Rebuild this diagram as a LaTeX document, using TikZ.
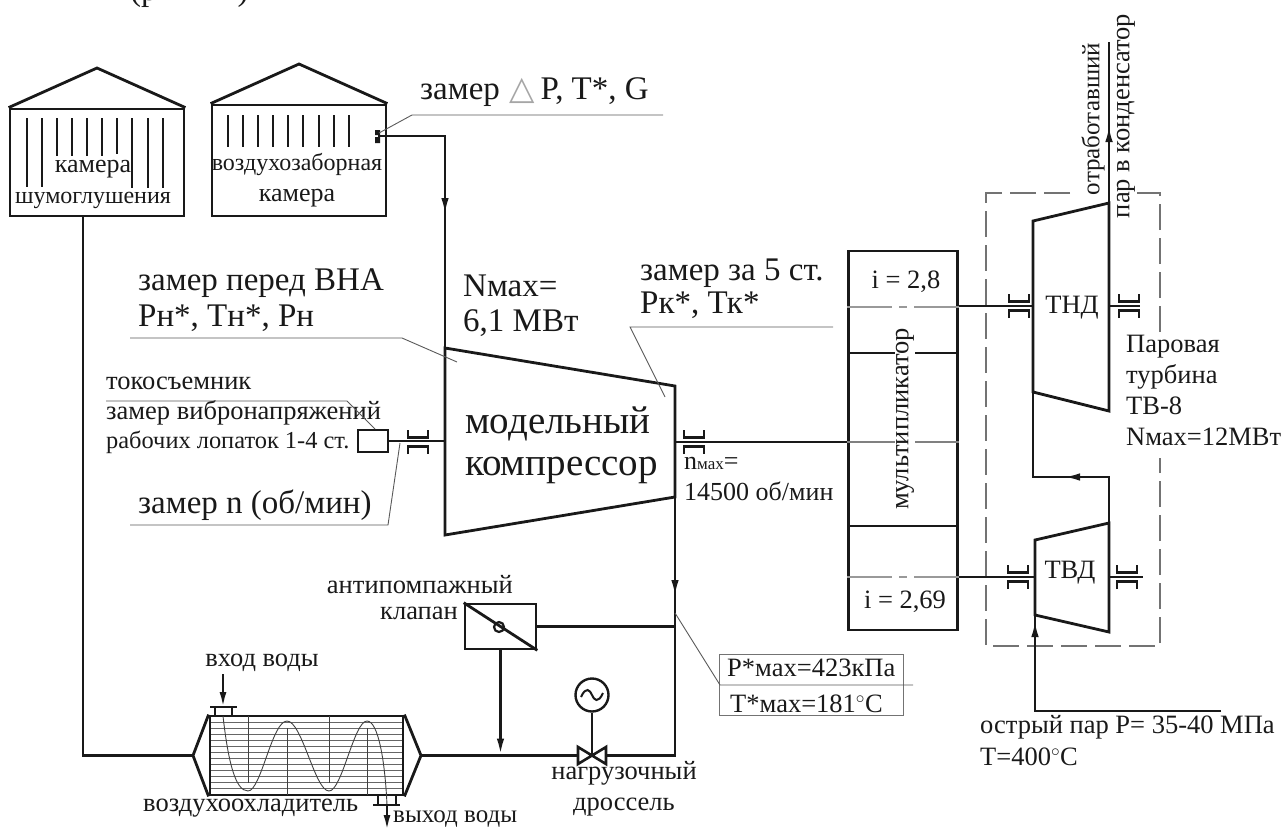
\documentclass[tikz,border=0pt]{standalone}
\usepackage{fontspec}
\setmainfont{Liberation Serif}
\newfontfamily\symbfont{DejaVu Sans}
\usetikzlibrary{arrows.meta,positioning,calc}
\newcommand{\fsz}[2]{\fontsize{#1}{#2}\selectfont}
\newcommand{\mysub}[1]{{\fsz{17}{17}#1}}

\begin{document}
\begin{tikzpicture}[
  x=1pt, y=-1pt,
  pipe/.style={line width=2.8pt, black!90},
  flow/.style={line width=2.8pt, black!90, -{Latex[length=17pt,width=7.5pt]}},
  leader/.style={line width=0.9pt, black!65},
  fine/.style={line width=0.9pt, black!75},
  frame/.style={line width=1.2pt, black!55, dash pattern=on 26pt off 8pt},
  center line/.style={line width=1.2pt, black!40, dash pattern=on 45pt off 7pt on 8pt off 7pt on 45pt},
  house/.style={draw, line width=2.8pt, black!90, minimum width=174pt, inner sep=0pt},
  lbl/.style={inner sep=0pt, font=\fsz{26.5}{31}, align=left, black!90},
  lblsm/.style={inner sep=0pt, font=\fsz{24}{31}, align=center, black!90},
  lblbig/.style={inner sep=0pt, font=\fsz{33}{35}, align=left, black!90},
  bearing/.pic={
    \draw[line width=2.6pt, black!90] (-10,-12) -- (-10,-4.5) -- (10,-4.5) -- (10,-12);
    \draw[line width=2.6pt, black!90] (-10,12) -- (-10,4.5) -- (10,4.5) -- (10,12);
  }
]
\useasboundingbox (0,0) rectangle (1284,830);
\clip (0,0) rectangle (1284,830);

\node[lblbig, anchor=base west] (topline) at (130,0) {(р\hspace{80pt})};

% intake chambers
\node[house, minimum height=107pt] (noise) at (97,162.5) {};
\draw[pipe, line join=miter] (noise.north west) -- (97,68) -- (noise.north east);
\foreach \xx/\yy in {27/187,42/187,57/156,72/156,87/156,102/156,117/154,132/188,148/188,163/188}
  \draw[line width=2.6pt, black!90] (\xx,118) -- (\xx,\yy);
\node[lblsm] (noisetxt) at (93,184) {{\fsz{26}{31}камера}\\шумоглушения};

\node[house, minimum height=111pt] (intake) at (299,160.5) {};
\draw[pipe, line join=miter] (intake.north west) -- (299,64) -- (intake.north east);
\foreach \xx in {228,243,258,273,288,303,319,334,349}
  \draw[line width=2.6pt, black!90] (\xx,115) -- (\xx,147);
\node[lblsm] (intaketxt) at (297,180) {воздухозаборная\\{\fsz{26}{31}камера}};
\fill[black!90] (375,130) rectangle (380,135) (375,137) rectangle (380,143);
\coordinate (sensor) at (378,136);

% compressor
\coordinate (compA) at (445,348);
\coordinate (compB) at (675,386);
\coordinate (compC) at (675,497);
\coordinate (compD) at (445,535);
\draw[pipe] (compA) -- (compB) -- (compC) -- (compD) -- cycle;
\node[inner sep=0pt, font=\fsz{39}{42}, align=left, black!90, anchor=west] (compname) at (465,445) {модельный\\компрессор};
\coordinate (airbend) at (compA |- sensor);
\coordinate (airtip) at (445,215);
\draw[pipe] (sensor) -- (airbend) -- (compA);
\draw[flow] (airbend) -- (airtip);

% current collector and left shaft
\node[draw, line width=2.6pt, black!90, minimum width=30pt, minimum height=22pt, inner sep=0pt] (collector) at (373,441) {};
\draw[pipe] (collector.east) -- (445,441);
\pic at (418,442) {bearing};

% shaft to gearbox
\node[draw, line width=2.8pt, black!90, minimum width=109pt, minimum height=379pt, inner sep=0pt] (gear) at (903,440.5) {};
\draw[pipe] (675,442) -- (gear.west |- 0,442);
\pic at (694,442) {bearing};
\draw[center line] (gear.west |- 0,307) -- (gear.east |- 0,307);
\draw[center line] (gear.west |- 0,577) -- (gear.east |- 0,577);
\draw[line width=1.1pt, black!50] (gear.west |- 0,442) -- (gear.east |- 0,442);
\draw[pipe] (gear.west |- 0,353) -- (gear.east |- 0,353);
\draw[pipe] (gear.west |- 0,526) -- (gear.east |- 0,526);
\node[lbl, rotate=90, fill=white, inner xsep=1pt, inner ysep=1pt] (geartxt) at (905,419) {мультипликатор};
\node[lbl] (iup) at (906,282) {i = 2,8};
\node[lbl] (idown) at (905,602) {i = 2,69};

% turbine frame
\draw[frame] (1070,193) -- (986,193) -- (986,646) -- (1160,646) -- (1160,458);
\draw[frame] (1160,332) -- (1160,193) -- (1133,193);

% low pressure turbine
\coordinate (lpA) at (1033,221);
\coordinate (lpB) at (1109,203);
\coordinate (lpC) at (1109,411);
\coordinate (lpD) at (1033,392);
\draw[pipe] (lpA) -- (lpB) -- (lpC) -- (lpD) -- cycle;
\node[lbl] (lptxt) at (1072,308) {ТНД};
\draw[pipe] (gear.east |- 0,306) -- (1033,306);
\pic at (1019,306) {bearing};
\draw[pipe] (1109,306) -- (1140,306);
\pic at (1129,306) {bearing};
\coordinate (exhaust) at (1109,42);
\coordinate (exhtip) at (1109,125);
\draw[pipe] (lpB) -- (exhaust);
\draw[flow] (lpB) -- (exhtip);

% high pressure turbine
\coordinate (hpA) at (1035,540);
\coordinate (hpB) at (1109,523);
\coordinate (hpC) at (1109,632);
\coordinate (hpD) at (1035,615);
\draw[pipe] (hpA) -- (hpB) -- (hpC) -- (hpD) -- cycle;
\node[lbl] (hptxt) at (1070,573) {ТВД};
\draw[pipe] (gear.east |- 0,577) -- (1035,577);
\pic at (1018,577) {bearing};
\draw[pipe] (1109,577) -- (1143,577);
\pic at (1127,577) {bearing};

% crossover between turbines
\coordinate (crossR) at (1109,477);
\coordinate (crossL) at (1033,477);
\coordinate (crosstip) at (1063,477);
\draw[pipe] (hpB) -- (crossR) -- (crossL) -- (lpD);
\draw[flow] (crossR) -- (crosstip);

% live steam
\coordinate (steamend) at (1221,711);
\coordinate (steambend) at (1035,711);
\coordinate (steamtip) at (1035,620);
\draw[pipe] (steamend) -- (steambend) -- (hpD);
\draw[flow] (steambend) -- (steamtip);

% cooler
\coordinate (coolW) at (193,755.5);
\coordinate (coolE) at (421,755.5);
\foreach \yy in {722,728,...,790}
  \draw[line width=0.8pt, black!60] (210,\yy) -- (403,\yy);
\node[draw, line width=2.8pt, black!90, minimum width=193pt, minimum height=79pt, inner sep=0pt] (cooler) at (306.5,755.5) {};
\draw[pipe, line join=miter] (cooler.north west) -- (coolW) -- (cooler.south west);
\draw[pipe, line join=miter] (cooler.north east) -- (coolE) -- (cooler.south east);
\draw[fine] (248,716) -- (248,783);
\draw[fine] (287,728) -- (287,795);
\draw[fine] (329,716) -- (329,783);
\draw[fine] (367,728) -- (367,795);
\draw[fine] (223,716) .. controls (228,760) and (235,791) .. (248,791)
  .. controls (261,791) and (272,721) .. (287,721)
  .. controls (302,721) and (315,791) .. (329,791)
  .. controls (342,791) and (354,721) .. (367,721)
  .. controls (378,721) and (385,760) .. (387,805);
% water flanges
\draw[line width=2.3pt, black!90] (210,707) -- (237,707);
\draw[line width=2.3pt, black!90] (215,707) -- (215,716);
\draw[line width=2.3pt, black!90] (232,707) -- (232,716);
\draw[line width=2.3pt, black!90] (373,805) -- (400,805);
\draw[line width=2.3pt, black!90] (378,795) -- (378,805);
\draw[line width=2.3pt, black!90] (396,795) -- (396,805);
\coordinate (waterin) at (223,674);
\coordinate (waterintip) at (223,707);
\coordinate (waterout) at (387,805);
\coordinate (waterouttip) at (387,830);
\draw[line width=2.3pt, black!90, -{Latex[length=15pt,width=7pt]}] (waterin) -- (waterintip);
\draw[line width=2.3pt, black!90, -{Latex[length=15pt,width=7pt]}] (waterout) -- (waterouttip);
\node[lbl] (waterinlbl) at (262,663) {вход воды};
\node[lbl, anchor=west, font=\fsz{25}{31}] (wateroutlbl) at (393,819) {выход воды};
\node[lbl, anchor=west] (coolerlbl) at (143,808) {воздухоохладитель};

% return line
\coordinate (noiseout) at (83,216);
\coordinate (noisebend) at (83,755.5);
\draw[pipe] (noiseout) -- (noisebend) -- (coolW);

% throttle and discharge
\coordinate (valveC) at (592,755.5);
\coordinate (corner) at (675,755.5);
\coordinate (disctip) at (675,597);
\draw[pipe] (compC) -- (corner) -- (606,755.5);
\draw[flow] (compC) -- (disctip);
\draw[pipe] (coolE) -- (578,755.5);
\draw[line width=2.6pt, black!90, line join=miter] (578,747) -- (606,764) -- (606,747) -- (578,764) -- cycle;
\node[draw, circle, line width=2.4pt, black!90, minimum size=33pt, inner sep=0pt] (gauge) at (592,695) {};
\draw[line width=2pt, black!90] (gauge.south) -- (valveC);
\draw[line width=2pt, black!90] (581,697) .. controls (586,686) and (590,690) .. (592,695) .. controls (594,700) and (598,704) .. (603,693);
\node[lbl, align=center] (valvetxt) at (624,789) {нагрузочный\\дроссель};

% anti-surge valve
\node[draw, line width=2.6pt, black!90, minimum width=71pt, minimum height=45pt, inner sep=0pt] (surge) at (500.5,626.5) {};
\draw[pipe] (surge.north west) -- (surge.south east);
\node[draw, circle, line width=2.2pt, black!90, minimum size=10pt, inner sep=0pt] (surgepin) at (499,627) {};
\draw[pipe] (surge.east) -- (675,626.5);
\coordinate (surgedrop) at (surge.south |- valveC);
\draw[flow] (surge.south) -- (surgedrop);
\node[lbl, anchor=east] (surgetxtA) at (513,585) {антипомпажный};
\node[lbl, anchor=east] (surgetxtB) at (458,613) {клапан};

% measuring labels
\node[lblbig, anchor=west] (inletA) at (420,92) {замер\hspace{1pt} {\symbfont\color{black!35}△}\hspace{6pt}P, T*, G};
\draw[leader] (379,133) -- (412,115) -- (663,115);

\node[lblbig, anchor=west] (vnaA) at (138,283) {замер перед ВНА};
\node[lblbig, anchor=west] (vnaB) at (138,318) {Рн*, Тн*, Рн};
\draw[leader] (130,338) -- (402,338) -- (457,362);

\node[lbl, anchor=west] (tokA) at (106,383) {токосъемник};
\node[lbl, anchor=west] (tokB) at (106,413) {замер вибронапряжений};
\node[lbl, anchor=west, font=\fsz{24.4}{31}] (tokC) at (106,442) {рабочих лопаток 1-4 ст.};
\draw[leader] (106,401) -- (347,401) -- (375,429);

\node[lblbig, anchor=west] (rpm) at (138,505) {замер n (об/мин)};
\draw[leader] (130,525) -- (388,525) -- (400,443);

\node[lblbig, anchor=west] (power) at (463,306) {Nмах=\\6,1 МВт};

\node[lblbig, anchor=west] (stageA) at (640,273) {замер за 5 ст.};
\node[lblbig, anchor=west] (stageB) at (640,305) {Рк*, Тк*};
\draw[leader] (833,327) -- (630,327) -- (665,397);

\node[lbl, anchor=west, font=\fsz{26}{30}] (speedA) at (684,463) {n\mysub{мах}=};
\node[lbl, anchor=west, font=\fsz{26}{30}] (speedB) at (684,491) {14500 об/мин};

% discharge limits box
\node[draw, line width=1pt, black!55, minimum width=184pt, minimum height=61pt, inner sep=0pt] (limits) at (811,684.5) {};
\draw[leader] (675,613) -- (720,685) -- (913,685);
\node[lbl, anchor=west] (limitA) at (727,668) {Р*мах=423кПа};
\node[lbl, anchor=west] (limitB) at (730,704) {Т*мах=181$^{\circ}$C};

% turbine labels
\node[lbl, anchor=north west] (turbine) at (1126,335) {Паровая\\турбина\\ТВ-8\\Nмах=12МВт};
\node[lbl, anchor=west] (steamA) at (980,727) {острый пар Р= 35-40 МПа};
\node[lbl, anchor=west] (steamB) at (980,757) {Т=400$^{\circ}$C};
\node[lbl, rotate=90, font=\fsz{25}{31}] (exhA) at (1093,119) {отработавший};
\node[lbl, rotate=90] (exhB) at (1126,116) {пар в конденсатор};
\end{tikzpicture}
\end{document}
